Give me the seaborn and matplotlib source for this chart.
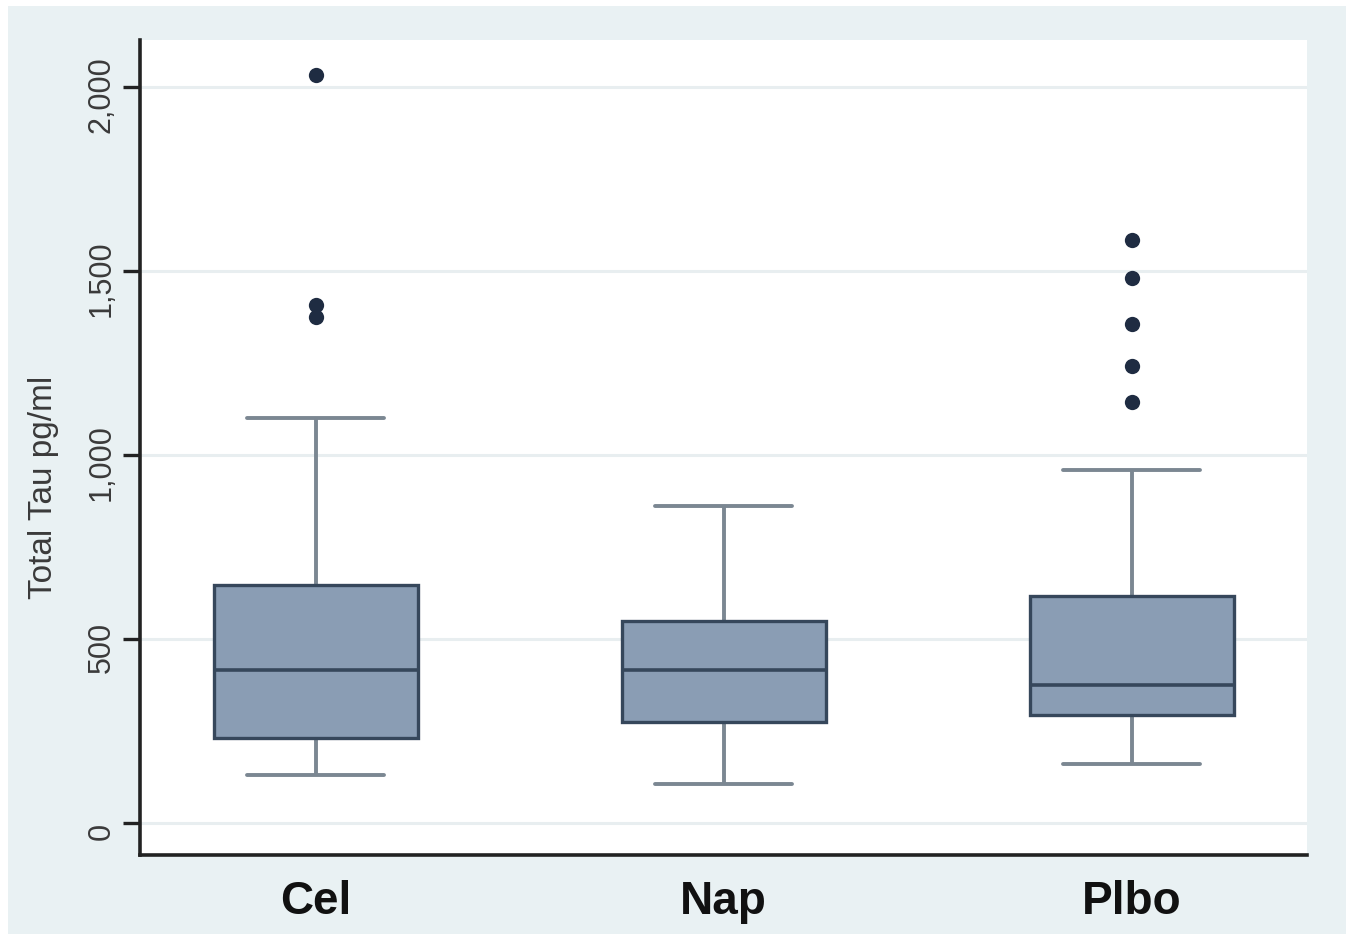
import matplotlib
matplotlib.use("Agg")
import matplotlib.pyplot as plt
from matplotlib.patches import Rectangle
from matplotlib.ticker import FuncFormatter
from matplotlib.transforms import ScaledTranslation
import numpy as np
import pandas as pd
import seaborn as sns

# Treatment groups and their box-plot summaries (Total Tau, pg/ml)
groups = ["Cel", "Nap", "Plbo"]
whisker_low = [130, 106, 160]
quartile_1 = [231, 274, 293]
medians = [416, 416, 375]
quartile_3 = [647, 549, 617]
whisker_high = [1101, 861, 959]
outliers = {
    "Cel": [2033, 1408, 1375],
    "Nap": [],
    "Plbo": [1584, 1481, 1356, 1242, 1144],
}
y_ticks = [0, 500, 1000, 1500, 2000]

# Five-number summaries in long form; with whis=(0, 100) seaborn reproduces
# the box edges, median and whisker ends exactly from these values.
rows = []
for i, g in enumerate(groups):
    for v in (whisker_low[i], quartile_1[i], medians[i], quartile_3[i], whisker_high[i]):
        rows.append({"group": g, "tau": v})
summary = pd.DataFrame(rows)
far = pd.DataFrame([{"group": g, "tau": v} for g in groups for v in outliers[g]])

sns.set_theme(style="white")
plt.rcParams["font.family"] = ["Liberation Sans", "DejaVu Sans"]

outer_bg = "#e9f1f3"
box_fill = "#8a9db4"
box_edge = "#36475b"
whisker_col = "#7b8792"
dot_col = "#1f2c42"

fig = plt.figure(figsize=(13.54, 9.39), dpi=100)
fig.patch.set_facecolor("white")
fig.patches.append(Rectangle((8 / 1354, 5 / 939), 1338 / 1354, 928 / 939,
                             transform=fig.transFigure, facecolor=outer_bg,
                             edgecolor="none", zorder=-10))

ax = fig.add_axes([140 / 1354, 1 - 855 / 939, (1307 - 140) / 1354, (855 - 40) / 939])
ax.set_facecolor("white")

sns.boxplot(data=summary, x="group", y="tau", order=groups, whis=(0, 100),
            width=0.5, color=box_fill, saturation=1, linecolor=box_edge,
            linewidth=2.4, showfliers=False, ax=ax,
            boxprops=dict(facecolor=box_fill, edgecolor=box_edge, linewidth=2.4, zorder=3),
            medianprops=dict(color=box_edge, linewidth=2.6, zorder=4),
            whiskerprops=dict(color=whisker_col, linewidth=2.8, zorder=2),
            capprops=dict(color=whisker_col, linewidth=2.8, zorder=2),
            capwidths=0.336)

sns.stripplot(data=far, x="group", y="tau", order=groups, jitter=False,
              color=dot_col, size=11, linewidth=0, ax=ax, zorder=5)

ax.set_xlim(-0.431, 2.43)
ax.set_ylim(-87, 2128)
ax.set_yticks(y_ticks)
ax.yaxis.set_major_formatter(FuncFormatter(lambda v, p: f"{int(v):,}"))
ax.grid(axis="y", color="#e8eef0", linewidth=2.2, zorder=0)
ax.set_axisbelow(True)

for side in ("top", "right"):
    ax.spines[side].set_visible(False)
for side in ("left", "bottom"):
    ax.spines[side].set_color("#222222")
    ax.spines[side].set_linewidth(2.6)

ax.tick_params(axis="y", which="major", length=12, width=2.4, color="#222222",
               labelsize=22, labelcolor="#3a3a3a", pad=5, direction="out", left=True)
shift_down = ScaledTranslation(0, -0.08, fig.dpi_scale_trans)
for lab in ax.get_yticklabels():
    lab.set_rotation(90)
    lab.set_va("center")
    lab.set_transform(lab.get_transform() + shift_down)
ax.tick_params(axis="x", length=0, labelsize=33, pad=18)
for lab in ax.get_xticklabels():
    lab.set_fontweight("bold")
    lab.set_color("#111111")

ax.set_xlabel("")
ax.set_ylabel("Total Tau pg/ml", fontsize=24, color="#3a3a3a")
ax.yaxis.set_label_coords(-0.069, 0.4515)

fig.savefig("out.png", dpi=100, facecolor=fig.get_facecolor())
